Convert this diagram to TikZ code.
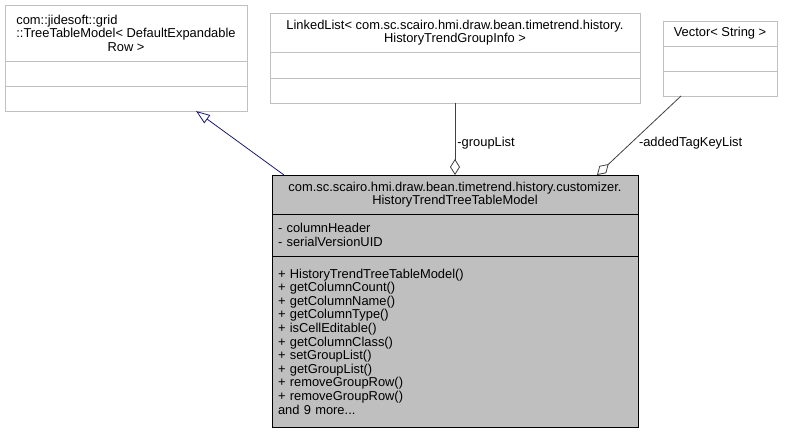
\documentclass[tikz,border=0pt]{standalone}
\usepackage{fontspec}
\setmainfont{Liberation Sans}
\usepackage{tikz}
\usetikzlibrary{positioning, arrows.meta}
\definecolor{edgeGray}{HTML}{C0C0C0}
\definecolor{fillGray}{HTML}{BFBFBF}
\definecolor{inheritBlue}{HTML}{191970}
\definecolor{aggrGray}{HTML}{404040}

\begin{document}
\begin{tikzpicture}[x=1pt, y=-1pt,
    every node/.style={font=\fontsize{12.9}{13.6}\selectfont},
    clsbox/.style={draw=edgeGray, fill=white, line width=0.8pt, inner sep=0pt, outer sep=0pt},
    mainbox/.style={clsbox, draw=black, fill=fillGray},
    inherit/.style={-{Triangle[open, length=14pt, width=10pt]}, line width=0.8pt, color=inheritBlue},
    aggr/.style={-{Diamond[open, length=16pt, width=10pt]}, line width=0.8pt, color=aggrGray},
    lbl/.style={inner sep=1pt, text=black}]
    \useasboundingbox (0,0) rectangle (788,433);
    % Base class
    \node[clsbox, anchor=north west, minimum width=242pt, minimum height=56pt, align=center] (treeTitle) at (5,5)
      {\begin{tabular}[b]{@{}l@{}}com::jidesoft::grid\\::TreeTableModel< DefaultExpandable\end{tabular}\\Row >};
    \node[clsbox, minimum width=242pt, minimum height=25pt, below=0pt of treeTitle] (treeAttr) {};
    \node[clsbox, minimum width=242pt, minimum height=25pt, below=0pt of treeAttr] (treeOps) {};
    % Group list
    \node[clsbox, anchor=north west, minimum width=370pt, minimum height=39pt, align=center] (listTitle) at (270,13)
      {LinkedList< com.sc.scairo.hmi.draw.bean.timetrend.history.\\HistoryTrendGroupInfo >};
    \node[clsbox, minimum width=370pt, minimum height=26pt, below=0pt of listTitle] (listAttr) {};
    \node[clsbox, minimum width=370pt, minimum height=25pt, below=0pt of listAttr] (listOps) {};
    % Tag key vector
    \node[clsbox, anchor=north west, minimum width=114pt, minimum height=25pt] (vecTitle) at (663,21) {Vector< String >};
    \node[clsbox, minimum width=114pt, minimum height=25pt, below=0pt of vecTitle] (vecAttr) {};
    \node[clsbox, minimum width=114pt, minimum height=25pt, below=0pt of vecAttr] (vecOps) {};
    % Main class
    \node[mainbox, anchor=north west, minimum width=366pt, minimum height=39pt, align=center] (mainTitle) at (272,175)
      {com.sc.scairo.hmi.draw.bean.timetrend.history.customizer.\\HistoryTrendTreeTableModel};
    \node[mainbox, minimum width=366pt, minimum height=42pt, text width=354pt, inner xsep=6pt, align=left, below=0pt of mainTitle] (mainAttr)
      {- columnHeader\\- serialVersionUID};
    \node[mainbox, minimum width=366pt, minimum height=171pt, text width=354pt, inner xsep=6pt, align=left, below=0pt of mainAttr] (mainOps)
      {+ HistoryTrendTreeTableModel()\\+ getColumnCount()\\+ getColumnName()\\+ getColumnType()\\+ isCellEditable()\\+ getColumnClass()\\+ setGroupList()\\+ getGroupList()\\+ removeGroupRow()\\+ removeGroupRow()\\and 9 more...};
    % Relations
    \draw[inherit] ([xshift=12pt]mainTitle.north west) -- ([xshift=191pt]treeOps.south west);
    \draw[aggr] (listOps.south) -- (listOps.south |- mainTitle.north)
      node[lbl, pos=0.56, right=1pt] {-groupList};
    \draw[aggr] ([xshift=18pt]vecOps.south west) -- ([xshift=325pt]mainTitle.north west)
      node[lbl, pos=0.6, right=7pt] {-addedTagKeyList};
\end{tikzpicture}
\end{document}
